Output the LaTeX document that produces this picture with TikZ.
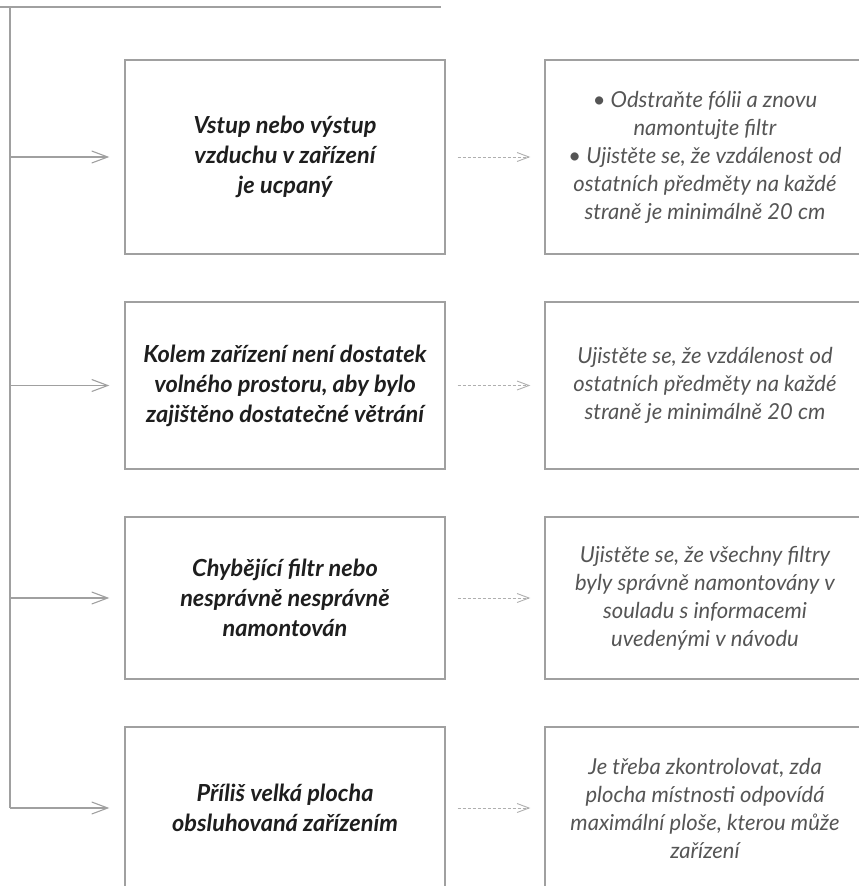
\documentclass[tikz,border=0pt]{standalone}
\usepackage{fontspec}
\setmainfont{Lato}
\usetikzlibrary{arrows.meta}
\definecolor{linegray}{RGB}{160,160,160}
\definecolor{dashgray}{RGB}{175,175,175}
\definecolor{darktext}{RGB}{30,30,30}
\definecolor{lighttext}{RGB}{85,85,85}
\tikzset{
  causebox/.style={draw=linegray, line width=1.4pt, minimum width=320pt, align=center,
    font=\fontsize{23.5}{30}\selectfont\bfseries\itshape, text=darktext, inner sep=0pt},
  fixbox/.style={draw=linegray, line width=1.4pt, minimum width=320pt, align=center,
    font=\fontsize{22}{28}\selectfont\itshape, text=lighttext, inner sep=0pt},
  trunk/.style={draw=linegray, line width=1.3pt},
  branch/.style={draw=linegray, line width=1.1pt, -{Straight Barb[length=16pt,width=12pt,line width=1.1pt]}},
  dasharrow/.style={draw=dashgray, line width=0.9pt, dash pattern=on 3pt off 2pt,
    -{Straight Barb[length=12pt,width=9pt,line width=0.9pt]}}
}
\begin{document}
\begin{tikzpicture}[x=1pt,y=1pt]
\useasboundingbox (0,0) rectangle (859,-886);
\clip (0,0) rectangle (859,-886);
% left boxes (cause)
\node[causebox, minimum height=194pt] (c1) at (285,-157) {Vstup nebo výstup\\vzduchu v zařízení\\je ucpaný};
\node[causebox, minimum height=167pt] (c2) at (285,-385.5) {Kolem zařízení není dostatek\\volného prostoru, aby bylo\\zajištěno dostatečné větrání};
\node[causebox, minimum height=162pt] (c3) at (285,-598) {Chybějící filtr nebo\\nesprávně nesprávně\\namontován};
\node[causebox, minimum height=162pt] (c4) at (285,-808) {Příliš velká plocha\\obsluhovaná zařízením};
% right boxes (fix)
\node[fixbox, minimum height=194pt] (f1) at (705,-157) {• Odstraňte fólii a znovu\\namontujte filtr\\• Ujistěte se, že vzdálenost od\\ostatních předměty na každé\\straně je minimálně 20 cm};
\node[fixbox, minimum height=167pt] (f2) at (705,-385.5) {Ujistěte se, že vzdálenost od\\ostatních předměty na každé\\straně je minimálně 20 cm};
\node[fixbox, minimum height=162pt] (f3) at (705,-598) {Ujistěte se, že všechny filtry\\byly správně namontovány v\\souladu s informacemi\\uvedenými v návodu};
\node[fixbox, minimum height=162pt] (f4) at (705,-808) {Je třeba zkontrolovat, zda\\plocha místnosti odpovídá\\maximální ploše, kterou může\\zařízení};
% trunk
\coordinate (topL) at (0,-7);
\coordinate (topR) at (441,-7);
\coordinate (t0) at (10,-7);
\coordinate (t1) at (10,-157);
\coordinate (t2) at (10,-385.5);
\coordinate (t3) at (10,-598);
\coordinate (t4) at (10,-808);
\draw[trunk] (topL) -- (topR);
\draw[trunk] (t0) -- (t4);
\foreach \i in {1,2,3,4}{
  \draw[branch, shorten >=15pt] (t\i) -- (c\i.west);
  \draw[dasharrow, shorten <=12pt, shorten >=14pt] (c\i.east) -- (f\i.west);
}
\end{tikzpicture}
\end{document}
